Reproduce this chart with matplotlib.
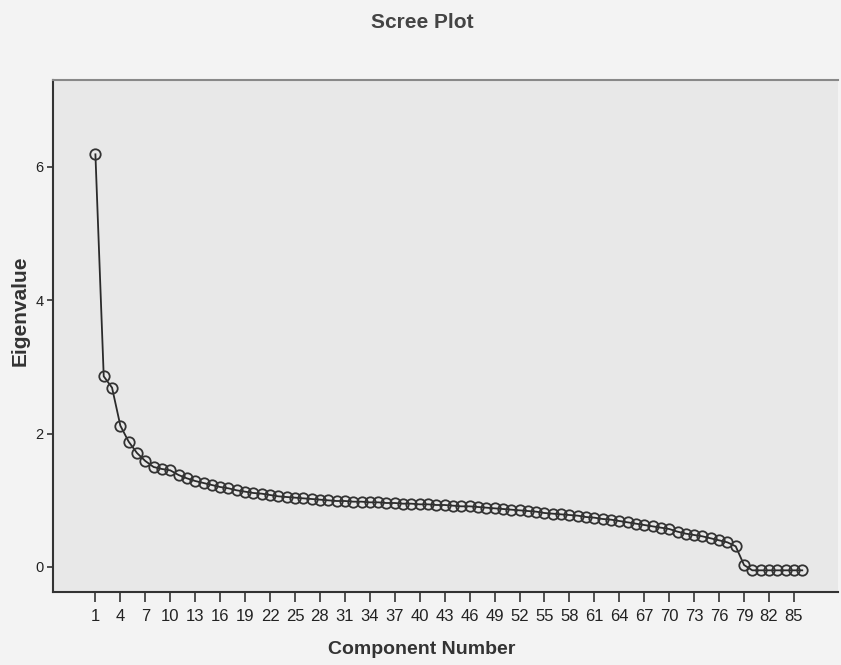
import matplotlib
matplotlib.use("Agg")
import matplotlib.pyplot as plt
from matplotlib.ticker import FixedLocator

plt.rcParams['font.family'] = ['Liberation Sans', 'DejaVu Sans']

components = list(range(1, 87))
eigenvalues = [
    6.19, 2.86, 2.69, 2.12, 1.88, 1.71, 1.59, 1.50, 1.47, 1.45,
    1.38, 1.33, 1.29, 1.26, 1.23, 1.20, 1.18, 1.15, 1.13, 1.11,
    1.10, 1.08, 1.06, 1.05, 1.04, 1.03, 1.02, 1.01, 1.00, 0.99,
    0.99, 0.98, 0.98, 0.97, 0.97, 0.96, 0.96, 0.95, 0.95, 0.94,
    0.94, 0.93, 0.93, 0.92, 0.91, 0.91, 0.90, 0.89, 0.88, 0.87,
    0.86, 0.85, 0.84, 0.83, 0.81, 0.80, 0.79, 0.78, 0.77, 0.75,
    0.74, 0.72, 0.71, 0.69, 0.67, 0.65, 0.63, 0.61, 0.59, 0.57,
    0.53, 0.50, 0.48, 0.46, 0.43, 0.40, 0.37, 0.31, 0.03, -0.05,
    -0.05, -0.05, -0.05, -0.05, -0.05, -0.05,
]
x_ticks = list(range(1, 86, 3))
y_ticks = [0, 2, 4, 6]

fig = plt.figure(figsize=(8.41, 6.65), dpi=100, facecolor='#f3f3f3')
ax = fig.add_axes([53/841, 1-592/665, (838-53)/841, (592-80)/665])
ax.set_facecolor('#e8e8e8')

ax.plot(components, eigenvalues, color='#2a2a2a', lw=1.3,
        marker='o', markersize=7.5, markerfacecolor='none',
        markeredgecolor='#333333', markeredgewidth=1.3)

ax.set_xlim(-4.1, 90.3)
ax.set_ylim(-0.375, 7.305)
ax.xaxis.set_major_locator(FixedLocator(x_ticks))
ax.yaxis.set_major_locator(FixedLocator(y_ticks))
ax.tick_params(axis='x', length=7, width=1.2, pad=5, labelsize=12,
               colors='#333333', labelcolor='#222222')
ax.tick_params(axis='y', length=4, width=1.2, pad=3, labelsize=10.5,
               colors='#333333', labelcolor='#222222')

for s in ['left', 'bottom']:
    ax.spines[s].set_color('#333333')
    ax.spines[s].set_linewidth(1.5)
ax.spines['top'].set_color('#888888')
ax.spines['top'].set_linewidth(1.5)
ax.spines['right'].set_visible(False)

ax.set_xlabel('Component Number', fontsize=14, fontweight='bold', color='#333333')
ax.xaxis.set_label_coords(0.47, -(650-592)/512)
ax.xaxis.label.set_va('center')
ax.set_ylabel('Eigenvalue', fontsize=15, fontweight='bold', color='#333333')
ax.yaxis.set_label_coords(-0.042, 0.55)
ax.yaxis.label.set_va('center')

fig.text(422/841, 1-22.5/665, 'Scree Plot', ha='center', va='center',
         fontsize=15, fontweight='bold', color='#444444')

fig.savefig('out.png', dpi=100, facecolor=fig.get_facecolor())
